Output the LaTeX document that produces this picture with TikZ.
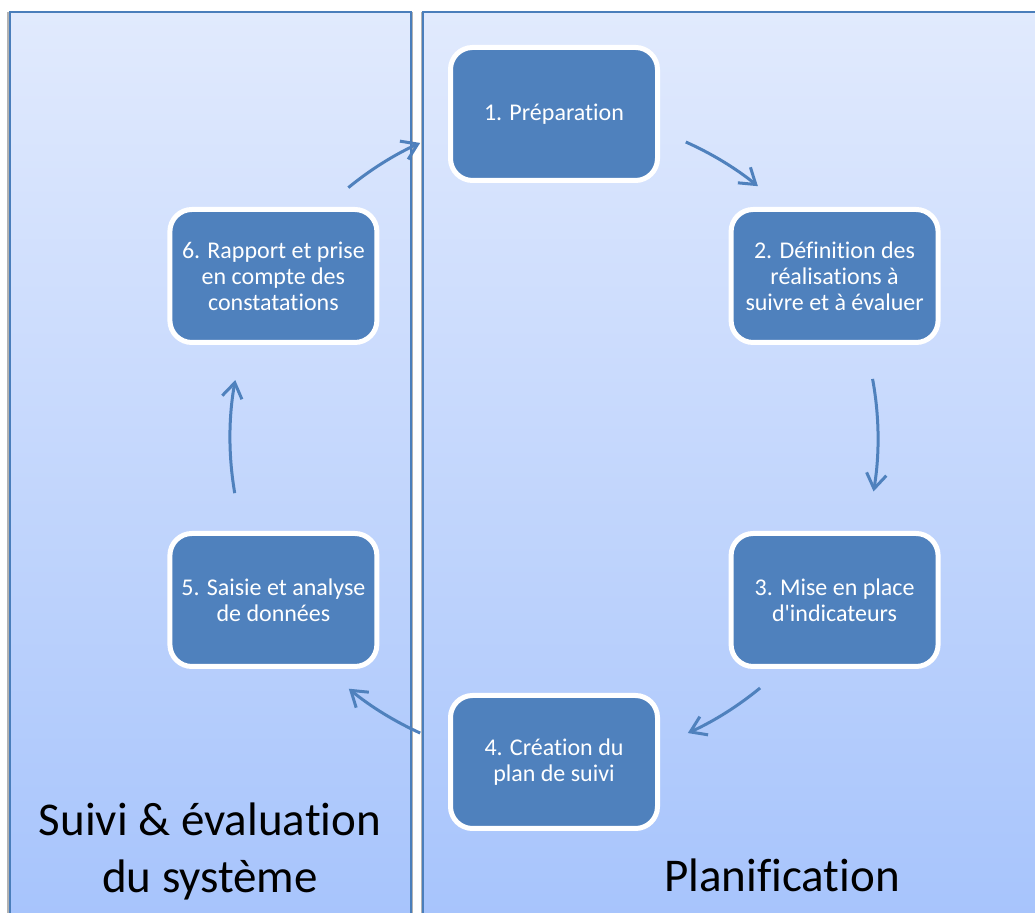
\documentclass[tikz,border=0pt]{standalone}
\usepackage{fontspec}
\setmainfont{Carlito}[Ligatures={TeX,NoCommon}]
\usetikzlibrary{arrows.meta}
\definecolor{cadre}{HTML}{4A7EBB}
\definecolor{boite}{HTML}{4F81BD}
\definecolor{haut}{HTML}{E1EAFD}
\definecolor{bas}{HTML}{A7C4FC}
\tikzset{
  etape/.style={rectangle, rounded corners=22pt, fill=boite, draw=white,
    line width=5pt, minimum width=207pt, minimum height=133pt,
    text=white, align=center, font=\fontsize{24}{26}\selectfont},
  fleche/.style={draw=boite, line width=3pt,
    -{Straight Barb[length=15pt,width=20pt]}},
  panneau/.style={draw=cadre, line width=2pt, top color=haut, bottom color=bas},
  titre/.style={align=center, font=\fontsize{47}{57}\selectfont}
}

\begin{document}
\begin{tikzpicture}[x=1pt,y=1pt]
\useasboundingbox (0,0) rectangle (1035,912);
% ombres et panneaux
\fill[black!30] (7,-5) rectangle (412.5,899.5);
\fill[black!30] (420.5,-5) rectangle (1045,899.5);
\draw[panneau] (9.5,-5) rectangle (410.5,899.5);
\draw[panneau] (422.5,-5) rectangle (1045,899.5);

\node[titre] (suivi) at (210,61) {Suivi \& évaluation\\du système};
\node[titre, anchor=base] (planif) at (782,20) {Planification};

\coordinate (centre) at (554,474);
\node[etape] (prep)    at ([shift={(90:324)}]centre)  {1. Préparation};
\node[etape] (def)     at ([shift={(30:324)}]centre)  {2. Définition des\\réalisations à\\suivre et à évaluer};
\node[etape] (indic)   at ([shift={(-30:324)}]centre) {3. Mise en place\\d\textquotesingle indicateurs};
\node[etape] (plan)    at ([shift={(-90:324)}]centre) {4. Création du\\plan de suivi};
\node[etape] (saisie)  at ([shift={(-150:324)}]centre) {5. Saisie et analyse\\de données};
\node[etape] (rapport) at ([shift={(150:324)}]centre) {6. Rapport et prise\\en compte des\\constatations};

\draw[fleche] ([shift={(66:324)}]centre) arc[start angle=66, end angle=51, radius=324];
\draw[fleche] ([shift={(10.5:324)}]centre) arc[start angle=10.5, end angle=-9.5, radius=324];
\draw[fleche] ([shift={(-50.5:324)}]centre) arc[start angle=-50.5, end angle=-65.6, radius=324];
\draw[fleche] ([shift={(-114.4:324)}]centre) arc[start angle=-114.4, end angle=-129.3, radius=324];
\draw[fleche] ([shift={(189.8:324)}]centre) arc[start angle=189.8, end angle=169.7, radius=324];
\draw[fleche] ([shift={(129.4:324)}]centre) arc[start angle=129.4, end angle=114.4, radius=324];
\end{tikzpicture}
\end{document}
